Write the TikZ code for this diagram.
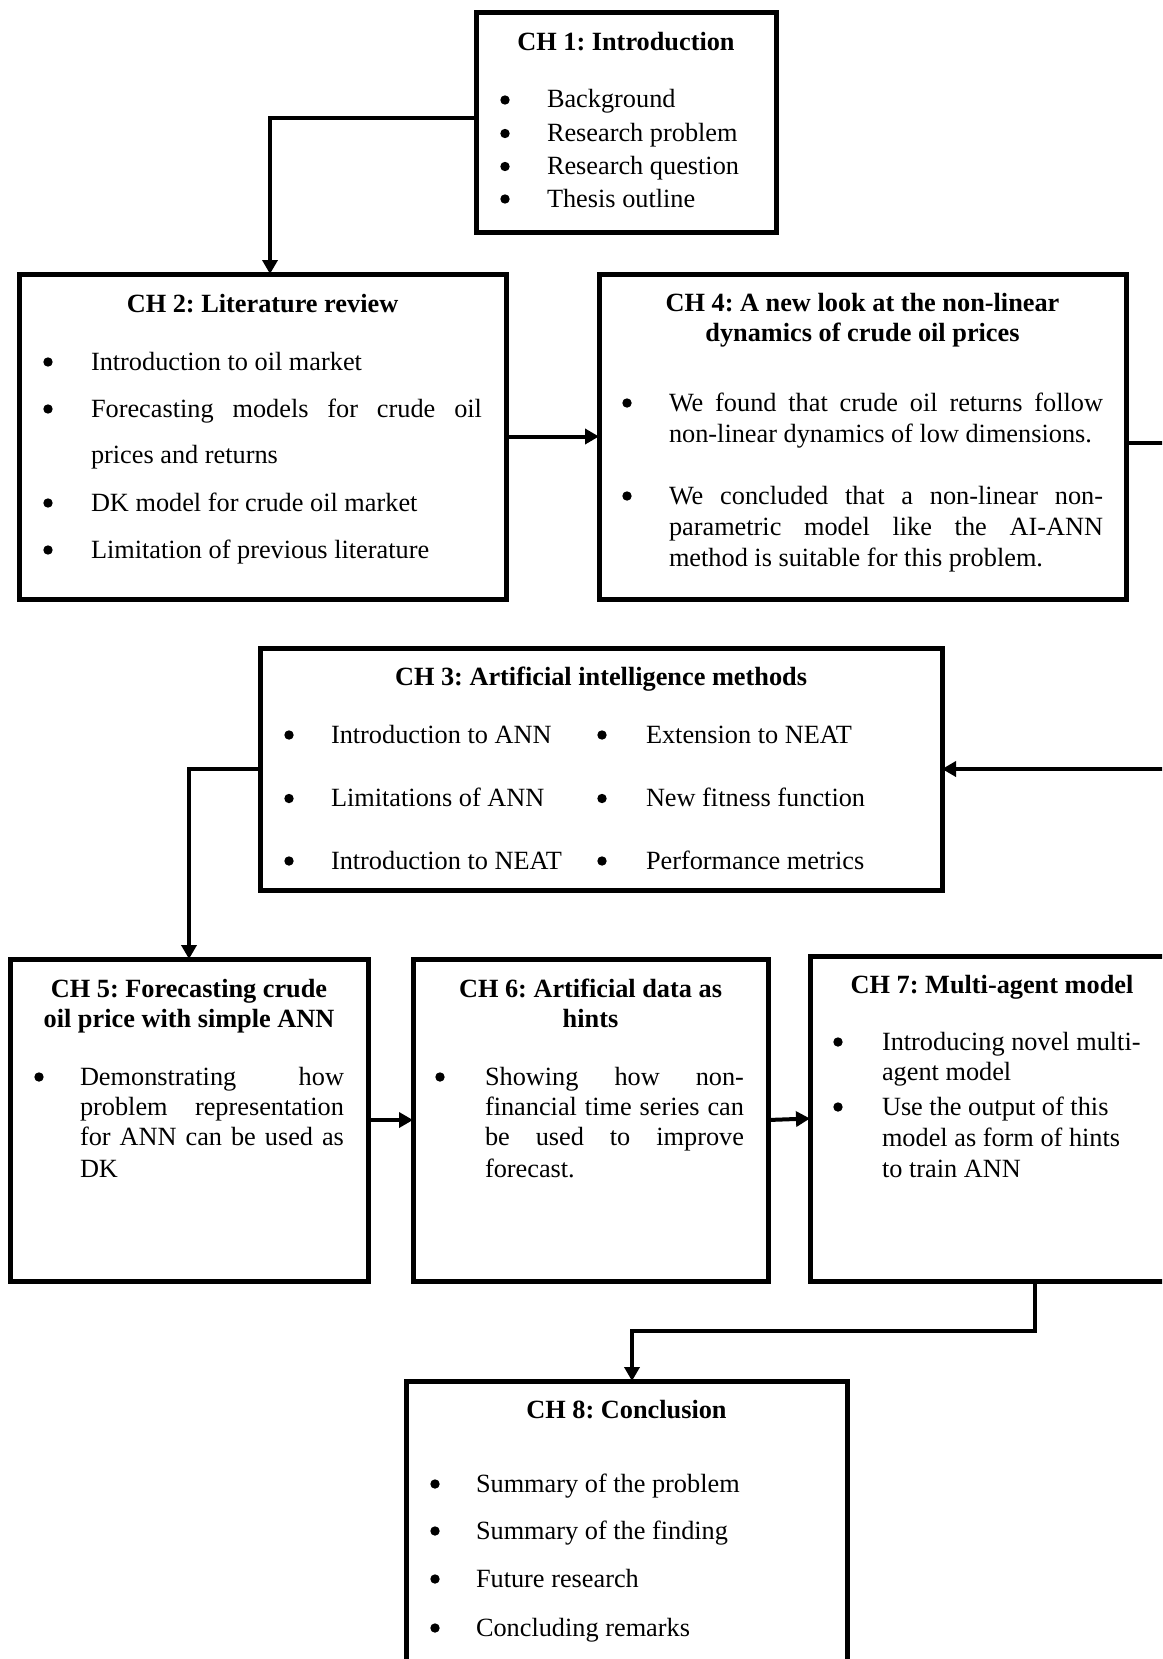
\documentclass[tikz,border=0pt]{standalone}
\usepackage{fontspec}
\setmainfont{Liberation Serif}
\usetikzlibrary{arrows.meta}

% 12pt text as laid out on the page (1 unit = 1 pixel)
\newcommand{\bodysize}{\fontsize{26.3pt}{32pt}\selectfont\frenchspacing}
% a justified line stretched to the given width
\newcommand{\jline}[2]{\makebox[#1][s]{#2}}

\tikzset{
  chbox/.style={draw, line width=5pt, line join=miter, inner sep=0pt, outer sep=0pt},
  txt/.style={inner sep=0pt, outer sep=0pt, anchor=base west, font=\bodysize},
  ttl/.style={inner sep=0pt, outer sep=0pt, anchor=base, font=\bodysize\bfseries},
  conn/.style={line width=4pt, line join=miter, -{Triangle[length=14pt,width=15pt]}},
}
% round bullet in front of a text line: #1 = node, #2 = distance to the text
\newcommand{\bul}[2]{\fill ([xshift=-#2,yshift=8pt]#1.base west) circle (4.7pt);}

\begin{document}
\begin{tikzpicture}[x=1pt, y=-1pt]
\fill[white] (0,0) rectangle (1162,1659);
\useasboundingbox (0,0) rectangle (1162,1659);
\clip (0,0) rectangle (1162,1659);

% ---------- chapter boxes ----------
\node[chbox, minimum width=300pt, minimum height=219pt] (ch1) at (626,122.5) {};
\node[chbox, minimum width=487pt, minimum height=325pt] (ch2) at (262.5,436.5) {};
\node[chbox, minimum width=527pt, minimum height=325pt] (ch4) at (862.5,436.5) {};
\node[chbox, minimum width=682pt, minimum height=242pt] (ch3) at (601,769) {};
\node[chbox, minimum width=358pt, minimum height=322pt] (ch5) at (189,1120) {};
\node[chbox, minimum width=355pt, minimum height=322pt] (ch6) at (590.5,1120) {};
\node[chbox, minimum width=364pt, minimum height=325pt] (ch7) at (992,1118.5) {};
\node[chbox, minimum width=441pt, minimum height=319pt] (ch8) at (626.5,1540.5) {};

% ---------- CH 1 ----------
\node[ttl] (h1) at (626,50.5) {CH 1: Introduction};
\foreach \y/\t [count=\i] in {108/Background, 141.5/Research problem,
    174.5/Research question, 207/Thesis outline}{
  \node[txt] (t1-\i) at (547,\y) {\t};
  \bul{t1-\i}{42pt}
}

% ---------- CH 2 ----------
\node[ttl] (h2) at (262.5,312) {CH 2: Literature review};
\node[txt] (t2-1) at (91,370) {Introduction to oil market};
\node[txt] (t2-2) at (91,417) {\jline{391pt}{Forecasting models for crude oil}};
\node[txt] (t2-3) at (91,463) {prices and returns};
\node[txt] (t2-4) at (91,511) {DK model for crude oil market};
\node[txt] (t2-5) at (91,558) {Limitation of previous literature};
\foreach \n in {t2-1,t2-2,t2-4,t2-5}{\bul{\n}{43pt}}

% ---------- CH 4 ----------
\node[ttl] (h4a) at (862.5,311) {CH 4: A new look at the non-linear};
\node[ttl] (h4b) at (862.5,341) {dynamics of crude oil prices};
\node[txt] (t4-1) at (669,411) {\jline{434pt}{We found that crude oil returns follow}};
\node[txt] (t4-2) at (669,442) {non-linear dynamics of low dimensions.};
\node[txt] (t4-3) at (669,504) {\jline{434pt}{We concluded that a non-linear non-}};
\node[txt] (t4-4) at (669,535) {\jline{434pt}{parametric model like the AI-ANN}};
\node[txt] (t4-5) at (669,566) {method is suitable for this problem.};
\foreach \n in {t4-1,t4-3}{\bul{\n}{42pt}}

% ---------- CH 3 ----------
\node[ttl] (h3) at (601,685) {CH 3: Artificial intelligence methods};
\foreach \y/\a/\b [count=\i] in {743/Introduction to ANN/Extension to NEAT,
    806.5/Limitations of ANN/New fitness function,
    869/Introduction to NEAT/Performance metrics}{
  \node[txt] (t3a-\i) at (331,\y) {\a};
  \node[txt] (t3b-\i) at (646,\y) {\b};
  \bul{t3a-\i}{42pt}
  \bul{t3b-\i}{44pt}
}

% ---------- CH 5 ----------
\node[ttl] (h5a) at (189,997) {CH 5: Forecasting crude};
\node[ttl] (h5b) at (189,1027) {oil price with simple ANN};
\node[txt] (t5-1) at (80,1085) {\jline{264pt}{Demonstrating how}};
\node[txt] (t5-2) at (80,1115) {\jline{264pt}{problem representation}};
\node[txt] (t5-3) at (80,1145) {\jline{264pt}{for ANN can be used as}};
\node[txt] (t5-4) at (80,1177) {DK};
\bul{t5-1}{41pt}

% ---------- CH 6 ----------
\node[ttl] (h6a) at (590.5,997) {CH 6: Artificial data as};
\node[ttl] (h6b) at (590.5,1027) {hints};
\node[txt] (t6-1) at (485,1085) {\jline{259pt}{Showing how non-}};
\node[txt] (t6-2) at (485,1115) {\jline{259pt}{financial time series can}};
\node[txt] (t6-3) at (485,1145) {\jline{259pt}{be used to improve}};
\node[txt] (t6-4) at (485,1177) {forecast.};
\bul{t6-1}{45pt}

% ---------- CH 7 ----------
\node[ttl] (h7) at (992,993) {CH 7: Multi-agent model};
\node[txt] (t7-1) at (882,1050) {Introducing novel multi-};
\node[txt] (t7-2) at (882,1080) {agent model};
\node[txt] (t7-3) at (882,1115) {Use the output of this};
\node[txt] (t7-4) at (882,1146) {model as form of hints};
\node[txt] (t7-5) at (882,1177) {to train ANN};
\foreach \n in {t7-1,t7-3}{\bul{\n}{44pt}}

% ---------- CH 8 ----------
\node[ttl] (h8) at (626.5,1418) {CH 8: Conclusion};
\foreach \y/\t [count=\i] in {1492/Summary of the problem, 1539/Summary of the finding,
    1587/Future research, 1636/Concluding remarks}{
  \node[txt] (t8-\i) at (476,\y) {\t};
  \bul{t8-\i}{41pt}
}

% ---------- connectors ----------
\coordinate (rt) at (1190,0);
\draw[conn] ([yshift=4pt]ch1.west) -| ([xshift=7.5pt]ch2.north);
\draw[conn] (ch2.east) -- (ch4.west);
\draw[conn] ([yshift=-6.5pt]ch4.east) -| (rt |- ch3.east) -- (ch3.east);
\draw[conn] (ch3.west) -| (ch5.north);
\draw[conn] (ch5.east) -- (ch6.west);
\draw[conn] (ch6.east) -- (ch7.west);
\draw[conn] ([xshift=43pt]ch7.south) -- ++(0,50) -| ([xshift=5.5pt]ch8.north);
\end{tikzpicture}
\end{document}
